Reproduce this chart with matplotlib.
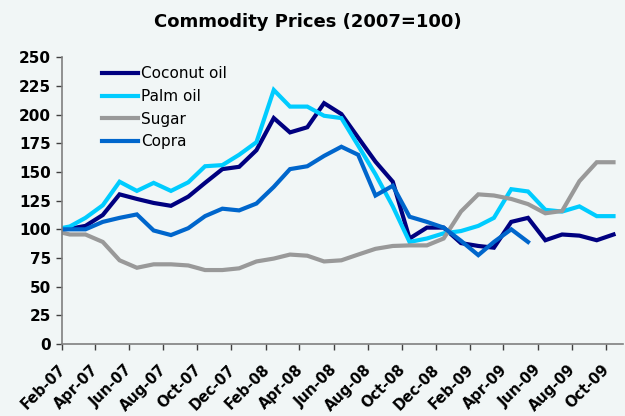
import pandas as pd
import matplotlib
matplotlib.use("Agg")
import matplotlib.pyplot as plt
import matplotlib.dates as mdates
import matplotlib.transforms as mtransforms

# monthly index values (2007=100), Jan-07 .. Oct-09, dated mid-month
months = pd.date_range("2007-01-01", "2009-10-01", freq="MS") + pd.Timedelta(days=14)

coconut_oil = [99.5, 100.5, 103, 112.5, 130.5, 126.5, 123, 120.5, 128.5, 140.5,
               152.5, 154.5, 169, 197, 184.5, 189, 210, 200.5, 180, 159,
               141.5, 92, 101.5, 101.5, 88, 85.5, 84, 106.5, 110, 90.5,
               95.5, 94.5, 90.5, 95.5]
palm_oil = [99.5, 102.5, 110, 121, 141.5, 133.5, 140.5, 133.5, 141, 155,
            156, 165, 176, 221.5, 207, 207, 199, 197, 173, 148,
            120, 89, 92, 96.5, 98.5, 103, 110, 135, 133, 117,
            115.5, 120, 111.5, 111.5]
sugar = [99, 95.5, 95.5, 89, 73, 66.5, 69.5, 69.5, 68.5, 64.5,
         64.5, 66, 72, 74.5, 78, 77, 72, 73, 78, 83,
         85.5, 86, 86, 92, 115.5, 130.5, 129.5, 126.5, 122, 114,
         116, 142, 158.5, 158.5]
copra = [100, 100, 100, 106.5, 110, 113, 99, 95, 101, 111.5,
         118, 116.5, 122.5, 137, 152.5, 155, 164, 172, 165, 129.5,
         138, 111, 106.5, 101.5, 90, 77.5, 89, 100, 89]

series = [
    ("Coconut oil", coconut_oil, "#000080"),
    ("Palm oil", palm_oil, "#00CCFF"),
    ("Sugar", sugar, "#999999"),
    ("Copra", copra, "#0066CC"),
]

bg = "#F1F6F6"
plt.rcParams["font.family"] = ["DejaVu Sans"]

fig = plt.figure(figsize=(6.25, 4.16), dpi=100, facecolor=bg)
ax = fig.add_axes([0.0992, 0.173, 0.8976, 0.6893])
ax.set_facecolor(bg)

for name, vals, col in series:
    ax.plot(months[:len(vals)], vals, color=col, lw=3, label=name,
            solid_joinstyle="miter")

ax.set_ylim(0, 250)
ax.set_yticks(range(0, 251, 25))
ax.set_xlim(pd.Timestamp("2007-02-01"), pd.Timestamp("2009-11-01"))
ax.xaxis.set_major_locator(mdates.MonthLocator(bymonth=range(2, 13, 2)))
ax.xaxis.set_major_formatter(mdates.DateFormatter("%b-%y"))

for s in ["top", "right"]:
    ax.spines[s].set_visible(False)
for s in ["left", "bottom"]:
    ax.spines[s].set_color("#808080")
    ax.spines[s].set_linewidth(1.2)

ax.tick_params(axis="both", direction="out", length=4, width=1, color="#404040")
ax.tick_params(axis="y", labelsize=11, pad=4)
ax.tick_params(axis="x", labelsize=10.5, pad=9)
for lbl in ax.get_yticklabels():
    lbl.set_fontweight("bold")

# nudge rotated month labels a little left of their tick, like the original
shift = mtransforms.ScaledTranslation(-3 / 72, 0, fig.dpi_scale_trans)
for lbl in ax.get_xticklabels():
    lbl.set_fontweight("bold")
    lbl.set_rotation(45)
    lbl.set_ha("right")
    lbl.set_va("top")
    lbl.set_rotation_mode("anchor")
    lbl.set_transform(lbl.get_transform() + shift)

leg = ax.legend(loc="upper left", bbox_to_anchor=(0.055, 1.0), frameon=False,
                fontsize=11, handlelength=2.35, handletextpad=0.2,
                labelspacing=0.5, borderaxespad=0.2)

fig.text(0.492, 0.948, "Commodity Prices (2007=100)", ha="center", va="center",
         fontsize=13, fontweight="bold")

fig.savefig("out.png", dpi=100, facecolor=bg)
